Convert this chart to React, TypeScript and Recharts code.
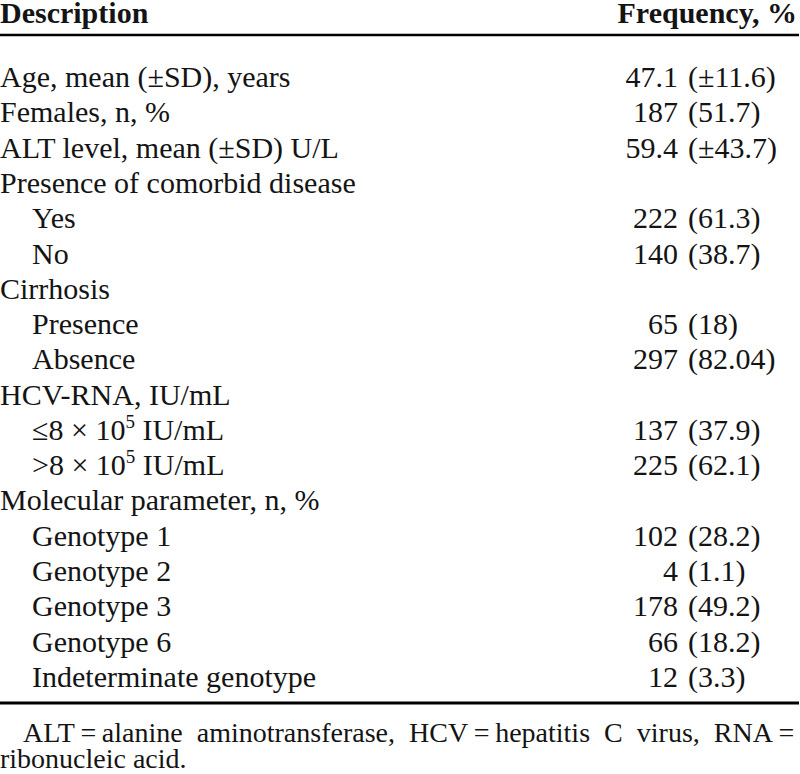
import { BarChart, Bar, XAxis, YAxis } from 'recharts';

// table rows, top to bottom
const descriptions = [
  'Age, mean (±SD), years',
  'Females, n, %',
  'ALT level, mean (±SD) U/L',
  'Presence of comorbid disease',
  'Yes',
  'No',
  'Cirrhosis',
  'Presence',
  'Absence',
  'HCV-RNA, IU/mL',
  '≤8 × 10^5 IU/mL',
  '>8 × 10^5 IU/mL',
  'Molecular parameter, n, %',
  'Genotype 1',
  'Genotype 2',
  'Genotype 3',
  'Genotype 6',
  'Indeterminate genotype',
];
// 0 = group row, 1 = sub row
const levels = [0, 0, 0, 0, 1, 1, 0, 1, 1, 0, 1, 1, 0, 1, 1, 1, 1, 1];
const counts = [47.1, 187, 59.4, null, 222, 140, null, 65, 297, null, 137, 225, null, 102, 4, 178, 66, 12];
const shares = ['±11.6', '51.7', '±43.7', null, '61.3', '38.7', null, '18', '82.04', null, '37.9', '62.1', null, '28.2', '1.1', '49.2', '18.2', '3.3'];

const headers = ['Description', 'Frequency, %'];
// thin spaces round "=" so justification only stretches the word gaps
const footnote =
  'ALT\u2009=\u2009alanine aminotransferase, HCV\u2009=\u2009hepatitis C virus, RNA\u2009=\u2009ribonucleic acid.';

const data = descriptions.map((desc, i) => ({
  desc,
  level: levels[i],
  n: counts[i],
  share: shares[i],
}));
const byDesc = new Map(data.map((d) => [d.desc, d]));

const FONT = '"Liberation Serif", "Times New Roman", serif';
const INK = '#141414';

function DescTick(props: any) {
  const { x, y, payload } = props;
  const row = byDesc.get(payload.value);
  const [head, tail] = String(payload.value).split('^');
  return (
    <text
      x={x + (row && row.level ? 32 : 0)}
      y={y}
      dy="0.35em"
      textAnchor="start"
      fontFamily={FONT}
      fontSize={30}
      fill={INK}
    >
      {tail === undefined ? (
        head
      ) : (
        <>
          {head}
          <tspan dy={-12} fontSize={19}>{tail[0]}</tspan>
          <tspan dy={12} fontSize={30}>{tail.slice(1)}</tspan>
        </>
      )}
    </text>
  );
}

function FreqTick(props: any) {
  const { x, y, payload } = props;
  const row = byDesc.get(payload.value);
  if (!row || row.n == null) return <g />;
  return (
    <g fontFamily={FONT} fontSize={30} fill={INK}>
      <text x={x - 121} y={y} dy="0.35em" textAnchor="end">
        {row.n}
      </text>
      <text x={x - 111} y={y} dy="0.35em" textAnchor="start">
        ({row.share})
      </text>
    </g>
  );
}

export default function App() {
  return (
    <div
      style={{
        position: 'absolute',
        top: 0,
        left: 0,
        width: 800,
        height: 774,
        overflow: 'hidden',
        background: '#fff',
        fontFamily: FONT,
        color: INK,
      }}
    >
      <div
        style={{
          position: 'absolute',
          top: 0,
          left: 0,
          width: 800,
          display: 'flex',
          justifyContent: 'space-between',
          fontWeight: 'bold',
          fontSize: 30,
          lineHeight: '25px',
        }}
      >
        <span>{headers[0]}</span>
        <span style={{ marginRight: 3 }}>{headers[1]}</span>
      </div>

      <div style={{ position: 'absolute', top: 30, left: 0 }}>
        <BarChart
          layout="vertical"
          width={800}
          height={678}
          data={data}
          margin={{ top: 4, right: 0, bottom: 4, left: 0 }}
        >
          <XAxis
            xAxisId="top"
            orientation="top"
            type="number"
            dataKey="n"
            height={1}
            tick={false}
            tickLine={false}
            axisLine={{ stroke: '#000', strokeWidth: 2.5 }}
          />
          <XAxis
            xAxisId="bottom"
            orientation="bottom"
            type="number"
            dataKey="n"
            height={1}
            tick={false}
            tickLine={false}
            axisLine={{ stroke: '#000', strokeWidth: 3 }}
          />
          <YAxis
            yAxisId="desc"
            type="category"
            dataKey="desc"
            width={1}
            mirror
            interval={0}
            axisLine={false}
            tickLine={false}
            tickSize={0}
            tickMargin={0}
            padding={{ top: 24, bottom: 9 }}
            tick={<DescTick />}
          />
          <YAxis
            yAxisId="freq"
            orientation="right"
            type="category"
            dataKey="desc"
            width={1}
            interval={0}
            axisLine={false}
            tickLine={false}
            tickSize={0}
            tickMargin={0}
            padding={{ top: 24, bottom: 9 }}
            tick={<FreqTick />}
          />
          <Bar xAxisId="bottom" yAxisId="desc" dataKey="n" fill="transparent" isAnimationActive={false} />
          <Bar xAxisId="top" yAxisId="freq" dataKey="n" fill="transparent" isAnimationActive={false} />
        </BarChart>
      </div>

      <div
        style={{
          position: 'absolute',
          top: 720,
          left: 0,
          width: 800,
          fontSize: 28,
          lineHeight: '26px',
          textAlign: 'justify',
          textIndent: 23,
        }}
      >
        {footnote}
      </div>
    </div>
  );
}
